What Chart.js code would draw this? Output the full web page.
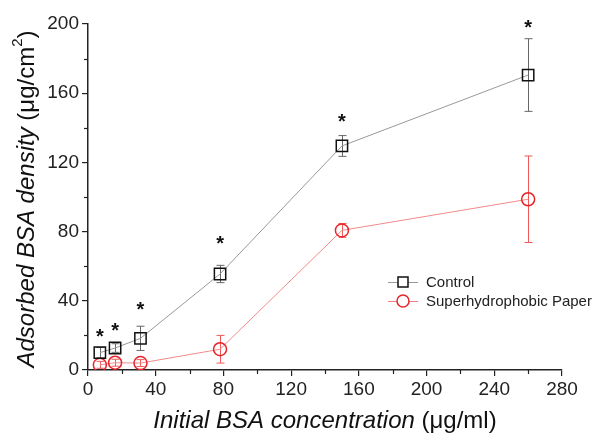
<!DOCTYPE html>
<html><head><meta charset="utf-8">
<script src="https://cdn.jsdelivr.net/npm/chart.js@4/dist/chart.umd.min.js"></script>
<style>html,body{margin:0;padding:0;background:#fff}#wrap{width:593px;height:436px}</style>
</head><body><div id="wrap"><canvas id="c" width="593" height="436"></canvas></div>
<script>
const concentrations = [7, 16, 31, 78, 150, 260];
const controlValues = [10, 12.7, 18.3, 55.5, 129.5, 170.5];
const controlErrors = [3, 2.5, 7, 5, 6, 21];
const paperValues = [3, 4.2, 4.0, 12, 80.7, 98.7];
const paperErrors = [2, 2, 2, 8, 4, 25];
const starY = [21, 24.7, 37, 75, 145.5, 200];
const xTicks = [0, 40, 80, 120, 160, 200, 240, 280];
const yTicks = [0, 40, 80, 120, 160, 200];
const seriesNames = ['Control', 'Superhydrophobic Paper'];

const FONT = '"Liberation Sans", Arial, sans-serif';

const extras = {
  id: 'extras',
  beforeDatasetsDraw(chart) {
    const ctx = chart.ctx, xs = chart.scales.x, ys = chart.scales.y;
    ctx.save();
    ctx.strokeStyle = '#222'; ctx.lineWidth = 1.2;
    for (let v = 20; v < 280; v += 40) {
      const px = Math.round(xs.getPixelForValue(v)) + 0.5;
      ctx.beginPath(); ctx.moveTo(px, ys.bottom); ctx.lineTo(px, ys.bottom + 4); ctx.stroke();
    }
    for (let v = 20; v < 200; v += 40) {
      const py = Math.round(ys.getPixelForValue(v)) + 0.5;
      ctx.beginPath(); ctx.moveTo(xs.left, py); ctx.lineTo(xs.left - 4, py); ctx.stroke();
    }
    const drawErr = (vals, errs, color) => {
      ctx.strokeStyle = color; ctx.lineWidth = 1;
      concentrations.forEach((c, i) => {
        const px = Math.round(xs.getPixelForValue(c)) + 0.5;
        const t = ys.getPixelForValue(vals[i] + errs[i]);
        const b = ys.getPixelForValue(Math.max(0, vals[i] - errs[i]));
        ctx.beginPath();
        ctx.moveTo(px, t); ctx.lineTo(px, b);
        ctx.moveTo(px - 4, t); ctx.lineTo(px + 4, t);
        ctx.moveTo(px - 4, b); ctx.lineTo(px + 4, b);
        ctx.stroke();
      });
    };
    drawErr(controlValues, controlErrors, '#666');
    drawErr(paperValues, paperErrors, '#ee5a5a');
    ctx.restore();
  },
  afterDraw(chart) {
    const ctx = chart.ctx, xs = chart.scales.x, ys = chart.scales.y;
    ctx.save();
    ctx.fillStyle = '#111'; ctx.font = 'bold 20px ' + FONT;
    ctx.textAlign = 'center'; ctx.textBaseline = 'middle';
    concentrations.forEach((c, i) => {
      ctx.fillText('*', xs.getPixelForValue(c), ys.getPixelForValue(starY[i]) + 4);
    });
    const lx = 388, ly = [282, 301];
    const cols = [['#999', '#111'], ['#f08080', '#e8242a']];
    ctx.textAlign = 'left';
    ctx.font = '15px ' + FONT;
    seriesNames.forEach((n, i) => {
      ctx.strokeStyle = cols[i][0]; ctx.lineWidth = 1;
      ctx.beginPath(); ctx.moveTo(lx, ly[i] + 0.5); ctx.lineTo(lx + 30, ly[i] + 0.5); ctx.stroke();
      ctx.strokeStyle = cols[i][1]; ctx.lineWidth = 1.5;
      ctx.fillStyle = '#fff';
      ctx.beginPath();
      if (i === 0) { ctx.rect(lx + 10, ly[i] - 5, 10, 10); }
      else { ctx.arc(lx + 15, ly[i], 6, 0, Math.PI * 2); }
      ctx.fill(); ctx.stroke();
      ctx.fillStyle = '#222';
      ctx.fillText(n, lx + 38, ly[i] + 1);
    });
    const xParts = [['italic 24px ' + FONT, 'Initial BSA concentration '], ['24px ' + FONT, '(μg/ml)']];
    let tw = 0;
    xParts.forEach(p => { ctx.font = p[0]; tw += ctx.measureText(p[1]).width; });
    let x0 = (xs.left + xs.right) / 2 - tw / 2;
    ctx.fillStyle = '#111'; ctx.textBaseline = 'middle';
    xParts.forEach(p => { ctx.font = p[0]; ctx.fillText(p[1], x0, 421); x0 += ctx.measureText(p[1]).width; });
    ctx.translate(27, (ys.top + ys.bottom) / 2 + 2);
    ctx.rotate(-Math.PI / 2);
    const yParts = [['italic 24px ' + FONT, 'Adsorbed BSA density ', 0], ['24px ' + FONT, '(μg/cm', 0], ['15px ' + FONT, '2', -9], ['24px ' + FONT, ')', 0]];
    tw = 0;
    yParts.forEach(p => { ctx.font = p[0]; tw += ctx.measureText(p[1]).width; });
    let y0 = -tw / 2;
    yParts.forEach(p => { ctx.font = p[0]; ctx.fillText(p[1], y0, p[2]); y0 += ctx.measureText(p[1]).width; });
    ctx.restore();
  }
};

new Chart(document.getElementById('c'), {
  type: 'line',
  data: {
    datasets: [
      {
        label: seriesNames[0],
        data: concentrations.map((c, i) => ({ x: c, y: controlValues[i] })),
        borderColor: '#999', borderWidth: 1,
        pointStyle: 'rect', pointRadius: 8, pointBorderColor: '#111', pointBorderWidth: 1.5,
        pointBackgroundColor: 'rgba(255,255,255,0)', tension: 0
      },
      {
        label: seriesNames[1],
        data: concentrations.map((c, i) => ({ x: c, y: paperValues[i] })),
        borderColor: '#f28a8a', borderWidth: 1,
        pointStyle: 'circle', pointRadius: 6.5, pointBorderColor: '#e8242a', pointBorderWidth: 1.5,
        pointBackgroundColor: 'rgba(255,255,255,0)', tension: 0
      }
    ]
  },
  options: {
    responsive: false, animation: false,
    layout: { padding: { left: 0, right: 31, top: 24, bottom: 0 } },
    plugins: { legend: { display: false }, tooltip: { enabled: false } },
    scales: {
      x: {
        type: 'linear', min: 0, max: 280,
        afterBuildTicks: s => { s.ticks = xTicks.map(v => ({ value: v })); },
        afterFit: s => { s.height = 66; },
        border: { display: true, color: '#222', width: 1.5 },
        grid: { drawOnChartArea: false, drawTicks: true, tickLength: 6, color: '#222', lineWidth: 1.2 },
        ticks: { color: '#222', font: { family: FONT, size: 19 }, padding: 2, maxRotation: 0 }
      },
      y: {
        type: 'linear', min: 0, max: 200,
        afterBuildTicks: s => { s.ticks = yTicks.map(v => ({ value: v })); },
        afterFit: s => { s.width = 88; },
        border: { display: true, color: '#222', width: 1.5 },
        grid: { drawOnChartArea: false, drawTicks: true, tickLength: 6, color: '#222', lineWidth: 1.2 },
        ticks: { color: '#222', font: { family: FONT, size: 19 }, padding: 3 }
      }
    }
  },
  plugins: [extras]
});
</script></body></html>
